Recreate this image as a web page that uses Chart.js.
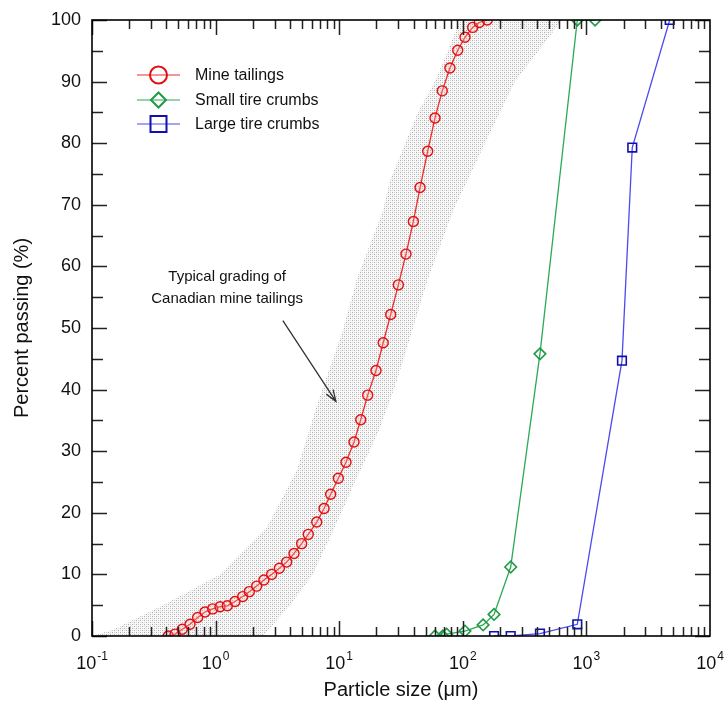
<!DOCTYPE html>
<html>
<head>
<meta charset="utf-8">
<script src="https://cdn.jsdelivr.net/npm/chart.js@4.4.1/dist/chart.umd.min.js"></script>
<style>
  html, body { margin: 0; padding: 0; background: #ffffff; }
  #wrap { width: 724px; height: 712px; }
</style>
</head>
<body>
<div id="wrap"><canvas id="c" width="724" height="712"></canvas></div>
<script>
// Grain-size distributions: particle size (µm) vs. percent passing (%)
const tailingsSize = [0.414, 0.470, 0.538, 0.621, 0.716, 0.821, 0.948, 1.086, 1.244, 1.435,
  1.657, 1.874, 2.15, 2.46, 2.84, 3.28, 3.76, 4.31, 4.97, 5.62,
  6.58, 7.54, 8.53, 9.84, 11.35, 13.18, 14.93, 17.0, 19.85, 22.7,
  26.1, 30.1, 34.7, 39.8, 45.1, 52.0, 59.6, 68.2, 78.7, 91.0,
  104.2, 120.2, 135.9, 157.8];
const tailingsPass = [0, 0.3, 1.1, 1.9, 3.0, 3.9, 4.4, 4.75, 4.9, 5.6,
  6.4, 7.2, 8.1, 9.1, 10.0, 11.0, 12.0, 13.4, 15.0, 16.5,
  18.5, 20.7, 23.0, 25.6, 28.2, 31.5, 35.1, 39.1, 43.1, 47.6,
  52.2, 57.0, 62.0, 67.3, 72.8, 78.7, 84.1, 88.5, 92.2, 95.1,
  97.2, 98.8, 99.6, 100];

const smallCrumbSize = [59.6, 68.8, 74, 104, 146, 179, 244, 421, 844, 1175];
const smallCrumbPass = [0, 0, 0.3, 0.8, 1.8, 3.5, 11.2, 45.8, 100, 100];

const largeCrumbSize = [179, 244, 421, 844, 1940, 2350, 4720];
const largeCrumbPass = [0, 0, 0.4, 1.9, 44.7, 79.3, 100];

// Envelope of typical Canadian mine tailings gradation
const envelopeFineSize = [0.1, 0.148, 0.375, 1.09, 2.61, 4.56, 6.74, 10.7, 13.9, 22.6, 25.8, 32.2, 43.4, 59.6, 75.9, 94.9];
const envelopeFinePass = [0, 1, 5, 10, 17.7, 27, 38, 49.6, 58, 69, 74, 78.7, 85, 90, 95, 100];
const envelopeCoarseSize = [635, 264, 151, 83.3, 52.3, 39.5, 28.8, 20.6, 13.4, 8.9, 6.1, 4.0, 2.42];
const envelopeCoarsePass = [100, 90, 80, 69, 58, 50, 41, 33, 25, 17, 10, 5, 0];

const decadeExponents = [-1, 0, 1, 2, 3, 4];
const seriesNames = ['Mine tailings', 'Small tire crumbs', 'Large tire crumbs'];
const envelopeNote = ['Typical grading of', 'Canadian mine tailings'];
const notePosition = { size: 1.24, pass: [58.3, 54.8] };
const arrowFrom = { size: 3.5, pass: 51.2 };
const arrowTo = { size: 9.4, pass: 38.1 };

const toPoints = (xs, ys) => xs.map((x, i) => ({ x: x, y: ys[i] }));

// Stipple texture for the envelope
function stipple() {
  const c = document.createElement('canvas');
  c.width = 4; c.height = 4;
  const g = c.getContext('2d');
  g.fillStyle = '#f8f8f8';
  g.fillRect(0, 0, 4, 4);
  g.fillStyle = '#adadad';
  g.fillRect(0, 0, 1, 1);
  g.fillRect(2, 2, 1, 1);
  g.fillStyle = '#d6d6d6';
  g.fillRect(2, 0, 1, 1);
  g.fillRect(0, 2, 1, 1);
  return document.getElementById('c').getContext('2d').createPattern(c, 'repeat');
}

const envelopePoints = toPoints(envelopeFineSize, envelopeFinePass)
  .concat(toPoints(envelopeCoarseSize, envelopeCoarsePass));

const FONT = "'Liberation Sans', Arial, Helvetica, sans-serif";

function marker(ctx, style, x, y, r) {
  ctx.beginPath();
  if (style === 'circle') {
    ctx.arc(x, y, r, 0, Math.PI * 2);
  } else if (style === 'rectRot') {
    ctx.moveTo(x, y - r); ctx.lineTo(x + r, y); ctx.lineTo(x, y + r); ctx.lineTo(x - r, y); ctx.closePath();
  } else {
    ctx.rect(x - r, y - r, 2 * r, 2 * r);
  }
  ctx.stroke();
}

const framePlugin = {
  id: 'frameAndNotes',
  afterDatasetsDraw(chart) {
    const { ctx, chartArea: a, scales: { x, y } } = chart;
    ctx.save();
    ctx.strokeStyle = '#222';
    ctx.lineWidth = 1.5;
    // inward ticks on the log axis (top and bottom)
    ctx.beginPath();
    for (let e = -1; e < 4; e++) {
      for (let k = 1; k <= 9; k++) {
        const v = k * Math.pow(10, e);
        const px = Math.round(x.getPixelForValue(v)) + 0.5;
        const len = k === 1 ? 15 : 9;
        ctx.moveTo(px, a.bottom); ctx.lineTo(px, a.bottom - len);
        ctx.moveTo(px, a.top); ctx.lineTo(px, a.top + len);
      }
    }
    // inward ticks on the percent axis (left and right), every 5 %
    for (let p = 0; p <= 100; p += 5) {
      const py = Math.round(y.getPixelForValue(p)) + 0.5;
      const len = p % 10 === 0 ? 15 : 11;
      ctx.moveTo(a.left, py); ctx.lineTo(a.left + len, py);
      ctx.moveTo(a.right, py); ctx.lineTo(a.right - len, py);
    }
    ctx.stroke();
    ctx.strokeStyle = '#000';
    ctx.lineWidth = 1.6;
    ctx.strokeRect(a.left, a.top, a.right - a.left, a.bottom - a.top);

    // decade labels with superscript exponents
    ctx.fillStyle = '#111';
    ctx.textBaseline = 'alphabetic';
    decadeExponents.forEach(n => {
      const px = x.getPixelForValue(Math.pow(10, n));
      const base = '10', sup = String(n);
      ctx.font = '18px ' + FONT;
      const wb = ctx.measureText(base).width;
      ctx.font = '12px ' + FONT;
      const ws = ctx.measureText(sup).width;
      const start = px - (wb + ws + 1) / 2;
      ctx.font = '18px ' + FONT;
      ctx.textAlign = 'left';
      ctx.fillText(base, start, a.bottom + 33);
      ctx.font = '12px ' + FONT;
      ctx.fillText(sup, start + wb + 1, a.bottom + 24);
    });

    // envelope note and arrow
    ctx.font = '15px ' + FONT;
    ctx.textAlign = 'center';
    ctx.textBaseline = 'middle';
    ctx.fillStyle = '#111';
    envelopeNote.forEach((t, i) => {
      ctx.fillText(t, x.getPixelForValue(notePosition.size), y.getPixelForValue(notePosition.pass[i]));
    });
    const x0 = x.getPixelForValue(arrowFrom.size), y0 = y.getPixelForValue(arrowFrom.pass);
    const x1 = x.getPixelForValue(arrowTo.size), y1 = y.getPixelForValue(arrowTo.pass);
    const ang = Math.atan2(y1 - y0, x1 - x0);
    ctx.strokeStyle = '#333';
    ctx.lineWidth = 1.3;
    ctx.beginPath();
    ctx.moveTo(x0, y0); ctx.lineTo(x1, y1);
    ctx.moveTo(x1 - 12 * Math.cos(ang - 0.35), y1 - 12 * Math.sin(ang - 0.35));
    ctx.lineTo(x1, y1);
    ctx.lineTo(x1 - 12 * Math.cos(ang + 0.35), y1 - 12 * Math.sin(ang + 0.35));
    ctx.stroke();

    // legend
    const rows = [75, 100, 124];
    chart.data.datasets.slice(0, 3).forEach((ds, i) => {
      const ry = rows[i];
      ctx.strokeStyle = ds.borderColor;
      ctx.lineWidth = 1.2;
      ctx.beginPath(); ctx.moveTo(137, ry); ctx.lineTo(180, ry); ctx.stroke();
      ctx.strokeStyle = ds.pointBorderColor;
      ctx.lineWidth = 2;
      const r = ds.pointStyle === 'circle' ? 8.5 : (ds.pointStyle === 'rectRot' ? 7.5 : 8);
      marker(ctx, ds.pointStyle, 158.5, ry, r);
      ctx.fillStyle = '#111';
      ctx.font = '16px ' + FONT;
      ctx.textAlign = 'left';
      ctx.textBaseline = 'middle';
      ctx.fillText(seriesNames[i], 195, ry + 1);
    });
    ctx.restore();
  }
};

new Chart(document.getElementById('c'), {
  type: 'scatter',
  data: {
    datasets: [
      {
        label: seriesNames[0],
        data: toPoints(tailingsSize, tailingsPass),
        showLine: true,
        borderColor: '#ee2a2a',
        borderWidth: 1.3,
        pointStyle: 'circle',
        pointRadius: 5,
        pointBorderWidth: 1.4,
        pointBorderColor: '#e01010',
        pointBackgroundColor: 'rgba(255,180,180,0.25)',
        order: 0
      },
      {
        label: seriesNames[1],
        data: toPoints(smallCrumbSize, smallCrumbPass),
        showLine: true,
        borderColor: '#2aaa55',
        borderWidth: 1.3,
        pointStyle: 'rectRot',
        pointRadius: 5.8,
        pointBorderWidth: 1.6,
        pointBorderColor: '#1f9a45',
        pointBackgroundColor: 'rgba(255,255,255,0)',
        order: 1
      },
      {
        label: seriesNames[2],
        data: toPoints(largeCrumbSize, largeCrumbPass),
        showLine: true,
        borderColor: '#4a4af0',
        borderWidth: 1.3,
        pointStyle: 'rect',
        pointRadius: 6.1,
        pointBorderWidth: 1.6,
        pointBorderColor: '#1010b0',
        pointBackgroundColor: 'rgba(255,255,255,0)',
        order: 2
      },
      {
        label: 'envelope',
        data: envelopePoints,
        showLine: true,
        fill: 'shape',
        borderWidth: 0,
        borderColor: 'rgba(0,0,0,0)',
        backgroundColor: stipple(),
        pointRadius: 0,
        order: 10
      }
    ]
  },
  plugins: [framePlugin],
  options: {
    responsive: false,
    animation: false,
    events: [],
    layout: { autoPadding: false, padding: { top: 20, right: 14, left: 0, bottom: 0 } },
    plugins: { legend: { display: false }, tooltip: { enabled: false } },
    scales: {
      x: {
        type: 'logarithmic',
        min: 0.1,
        max: 10000,
        grid: { display: false },
        border: { display: false },
        ticks: { display: false },
        title: {
          display: true,
          text: 'Particle size (μm)',
          color: '#111',
          font: { family: FONT, size: 20 },
          padding: { top: 0, bottom: 10 }
        },
        afterFit: s => { s.height = 76; }
      },
      y: {
        min: 0,
        max: 100,
        grid: { display: false },
        border: { display: false },
        ticks: {
          stepSize: 10,
          color: '#111',
          padding: 3,
          font: { family: FONT, size: 18 }
        },
        title: {
          display: true,
          text: 'Percent passing (%)',
          color: '#111',
          font: { family: FONT, size: 20 },
          padding: { top: 10, bottom: 0 }
        },
        afterFit: s => { s.width = 92; }
      }
    }
  }
});
</script>
</body>
</html>
